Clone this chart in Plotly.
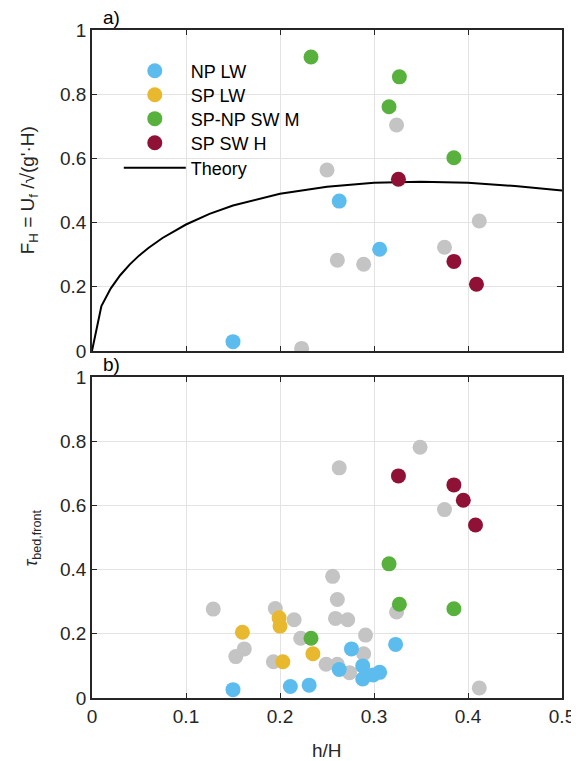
import plotly.graph_objects as go
from plotly.subplots import make_subplots

# ---- panel a) front Froude number ----
np_lw_a_x = [0.150, 0.263, 0.306]
np_lw_a_y = [0.029, 0.467, 0.317]
grey_a_x = [0.223, 0.250, 0.261, 0.289, 0.324, 0.375, 0.412]
grey_a_y = [0.008, 0.564, 0.283, 0.270, 0.704, 0.323, 0.405]
spnp_sw_m_a_x = [0.233, 0.316, 0.327, 0.385]
spnp_sw_m_a_y = [0.916, 0.761, 0.854, 0.602]
sp_sw_h_a_x = [0.326, 0.385, 0.409]
sp_sw_h_a_y = [0.535, 0.279, 0.208]

# theory curve
theory_x = [0, 0.01, 0.02, 0.03, 0.04, 0.05, 0.06, 0.075, 0.1, 0.125, 0.15,
            0.2, 0.25, 0.3, 0.35, 0.4, 0.45, 0.5]
theory_y = [0, 0.140, 0.195, 0.236, 0.269, 0.297, 0.321, 0.352, 0.394, 0.427,
            0.453, 0.490, 0.512, 0.524, 0.527, 0.524, 0.514, 0.500]

# ---- panel b) bed shear at the front ----
grey_b_x = [0.129, 0.195, 0.215, 0.222, 0.162, 0.153, 0.193, 0.249, 0.349, 0.263,
            0.375, 0.256, 0.261, 0.324, 0.259, 0.272, 0.291, 0.289, 0.261, 0.274,
            0.412]
grey_b_y = [0.277, 0.279, 0.244, 0.186, 0.153, 0.129, 0.113, 0.105, 0.781, 0.717,
            0.587, 0.379, 0.307, 0.268, 0.248, 0.244, 0.196, 0.138, 0.105, 0.079,
            0.031]
np_lw_b_x = [0.150, 0.211, 0.231, 0.276, 0.323, 0.263, 0.288, 0.288, 0.299, 0.306]
np_lw_b_y = [0.026, 0.036, 0.040, 0.153, 0.167, 0.089, 0.100, 0.059, 0.072, 0.080]
sp_lw_b_x = [0.160, 0.199, 0.200, 0.203, 0.235]
sp_lw_b_y = [0.205, 0.250, 0.224, 0.113, 0.138]
spnp_sw_m_b_x = [0.233, 0.316, 0.327, 0.385]
spnp_sw_m_b_y = [0.186, 0.418, 0.292, 0.278]
sp_sw_h_b_x = [0.326, 0.385, 0.395, 0.408]
sp_sw_h_b_y = [0.692, 0.664, 0.616, 0.539]

xticks = [0, 0.1, 0.2, 0.3, 0.4, 0.5]
yticks = [0, 0.2, 0.4, 0.6, 0.8, 1]

c_blue = '#5DBCEE'
c_yellow = '#E8B82F'
c_green = '#58B13D'
c_red = '#8F1236'
c_grey = '#C4C4C4'
msize = 15
txt = '#262626'

fig = make_subplots(rows=2, cols=1, shared_xaxes=True, vertical_spacing=0.039)

# panel a
fig.add_trace(go.Scatter(x=theory_x, y=theory_y, mode='lines', name='Theory',
                         line=dict(color='black', width=2), legend='legend5'),
              row=1, col=1)
fig.add_trace(go.Scatter(x=grey_a_x, y=grey_a_y, mode='markers', showlegend=False,
                         marker=dict(color=c_grey, size=msize)), row=1, col=1)
fig.add_trace(go.Scatter(x=np_lw_a_x, y=np_lw_a_y, mode='markers', showlegend=False,
                         marker=dict(color=c_blue, size=msize)), row=1, col=1)
fig.add_trace(go.Scatter(x=spnp_sw_m_a_x, y=spnp_sw_m_a_y, mode='markers', showlegend=False,
                         marker=dict(color=c_green, size=msize)), row=1, col=1)
fig.add_trace(go.Scatter(x=sp_sw_h_a_x, y=sp_sw_h_a_y, mode='markers', showlegend=False,
                         marker=dict(color=c_red, size=msize)), row=1, col=1)

# panel b
fig.add_trace(go.Scatter(x=grey_b_x, y=grey_b_y, mode='markers', showlegend=False,
                         marker=dict(color=c_grey, size=msize)), row=2, col=1)
groups = [('NP LW', np_lw_b_x, np_lw_b_y, c_blue, 'legend'),
          ('SP LW', sp_lw_b_x, sp_lw_b_y, c_yellow, 'legend2'),
          ('SP-NP SW M', spnp_sw_m_b_x, spnp_sw_m_b_y, c_green, 'legend3'),
          ('SP SW H', sp_sw_h_b_x, sp_sw_h_b_y, c_red, 'legend4')]
for name, xs, ys, col, leg in groups:
    fig.add_trace(go.Scatter(x=xs, y=ys, mode='markers', name=name, legend=leg,
                             marker=dict(color=col, size=msize)),
                  row=2, col=1)

common = dict(showgrid=True, gridcolor='#E3E3E3', gridwidth=1, zeroline=False,
              ticks='inside', ticklen=5, tickcolor=txt, showline=True,
              linecolor=txt, linewidth=1.5, mirror='ticks', automargin=False,
              tickfont=dict(size=19, color=txt))
fig.update_yaxes(range=[0, 1], tickvals=yticks,
                 ticktext=['0', '0.2', '0.4', '0.6', '0.8', '1'], **common)
fig.update_xaxes(range=[0, 0.5], tickvals=xticks,
                 ticktext=['0', '0.1', '0.2', '0.3', '0.4', '0.5'], **common)
fig.update_xaxes(showticklabels=False, row=1, col=1)

fig.add_annotation(text='h/H', xref='paper', yref='paper', x=0.5, y=-0.078,
                   xanchor='center', yanchor='middle', showarrow=False,
                   font=dict(size=19, color=txt))
fig.add_annotation(text="F<sub>H</sub> = U<sub>f</sub> /√(g'·H)", textangle=-90,
                   xref='paper', yref='paper', x=-0.134, y=0.76,
                   xanchor='center', yanchor='middle', showarrow=False,
                   font=dict(size=19, color=txt))
fig.add_annotation(text="<i>τ</i><sub>bed,front</sub>", textangle=-90,
                   xref='paper', yref='paper', x=-0.126, y=0.24,
                   xanchor='center', yanchor='middle', showarrow=False,
                   font=dict(size=18, color=txt))
fig.add_annotation(text='a)', xref='paper', yref='paper', x=0.02, y=1.0,
                   xanchor='left', yanchor='bottom', showarrow=False,
                   font=dict(size=19, color='black'))
fig.add_annotation(text='b)', xref='paper', yref='paper', x=0.02, y=0.4805,
                   xanchor='left', yanchor='bottom', showarrow=False,
                   font=dict(size=19, color='black'))

# one legend per entry so the rows can sit where they are in the original
leg_rows = [0.9386, 0.9027, 0.8668, 0.8308, 0.7934]
leg_names = ['legend', 'legend2', 'legend3', 'legend4', 'legend5']
legends = {}
for key, yy in zip(leg_names, leg_rows):
    legends[key] = dict(x=0.057, y=yy, xanchor='left', yanchor='middle',
                        bgcolor='rgba(0,0,0,0)', font=dict(size=18, color='black'),
                        itemwidth=62)

# the page body adds 8 px around the figure, so the figure is 8 px smaller
fig.update_layout(
    width=571, height=753,
    margin=dict(l=84, r=17, t=22, b=63),
    plot_bgcolor='white', paper_bgcolor='white',
    font=dict(family='Liberation Sans, Arial, sans-serif'),
    **legends,
)

fig.write_html("out.html")
